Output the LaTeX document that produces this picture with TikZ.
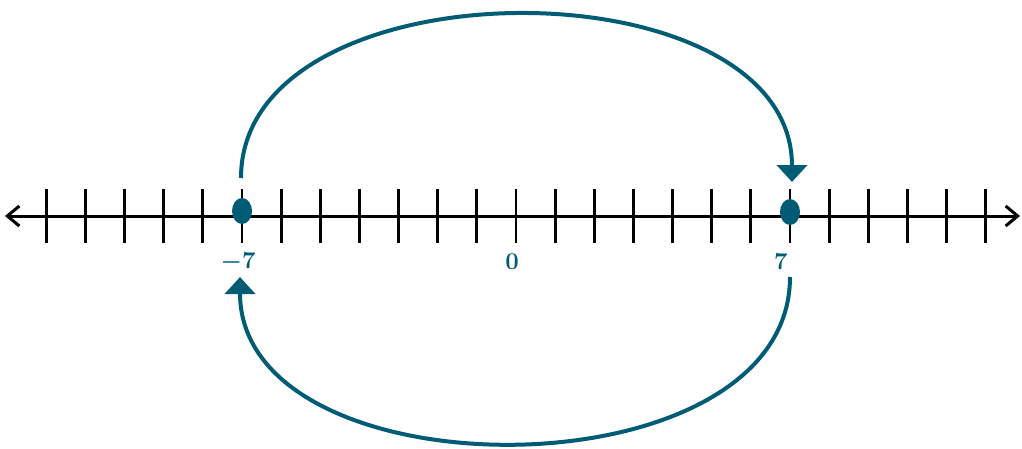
\documentclass[tikz,border=0pt]{standalone}
\usetikzlibrary{arrows.meta,shapes.geometric}
\definecolor{arcteal}{RGB}{0,91,116}
\tikzset{
  axisline/.style={black, line width=1.5pt},
  tickmark/.style={black, line width=1.4pt},
  hopline/.style={arcteal, line width=2pt, -{Triangle[width=15pt,length=8.5pt]}},
  ptdot/.style={ellipse, fill=arcteal, inner sep=0pt, minimum width=10pt, minimum height=13pt},
  numlbl/.style={text=arcteal, font=\fontsize{12}{14}\selectfont\bfseries\boldmath}
}
\begin{document}
\begin{tikzpicture}[x=0.5pt, y=-0.5pt]
  \useasboundingbox (0,0) rectangle (1022,449);
  \def\zx{516} \def\ux{39.14} \def\ay{216}
  % number line
  \coordinate (lend) at (5,\ay);
  \coordinate (rend) at (1020,\ay);
  \draw[axisline, {Straight Barb[length=6pt,width=10pt]}-{Straight Barb[length=6pt,width=10pt]}] (lend) -- (rend);
  \foreach \i in {-12,...,12} { \draw[tickmark] (\zx+\i*\ux,189) -- (\zx+\i*\ux,243); }
  % points
  \node[ptdot] (pm) at (\zx-7*\ux,211) {};
  \node[ptdot] (pp) at (\zx+7*\ux,212) {};
  \node[numlbl] (lm) at (\zx-7*\ux-4,262) {$-7$};
  \node[numlbl] (lz) at (\zx-4,262) {0};
  \node[numlbl] (lp) at (\zx+7*\ux-9,262) {7};
  % hops
  \coordinate (ta) at (241,178);
  \coordinate (tb) at (792,182);
  \coordinate (ba) at (790,277);
  \coordinate (bb) at (240,277);
  \draw[hopline] (ta) .. controls (241,-40) and (792,-40) .. (tb);
  \draw[hopline] (ba) .. controls (790,498) and (240,498) .. (bb);
\end{tikzpicture}
\end{document}
